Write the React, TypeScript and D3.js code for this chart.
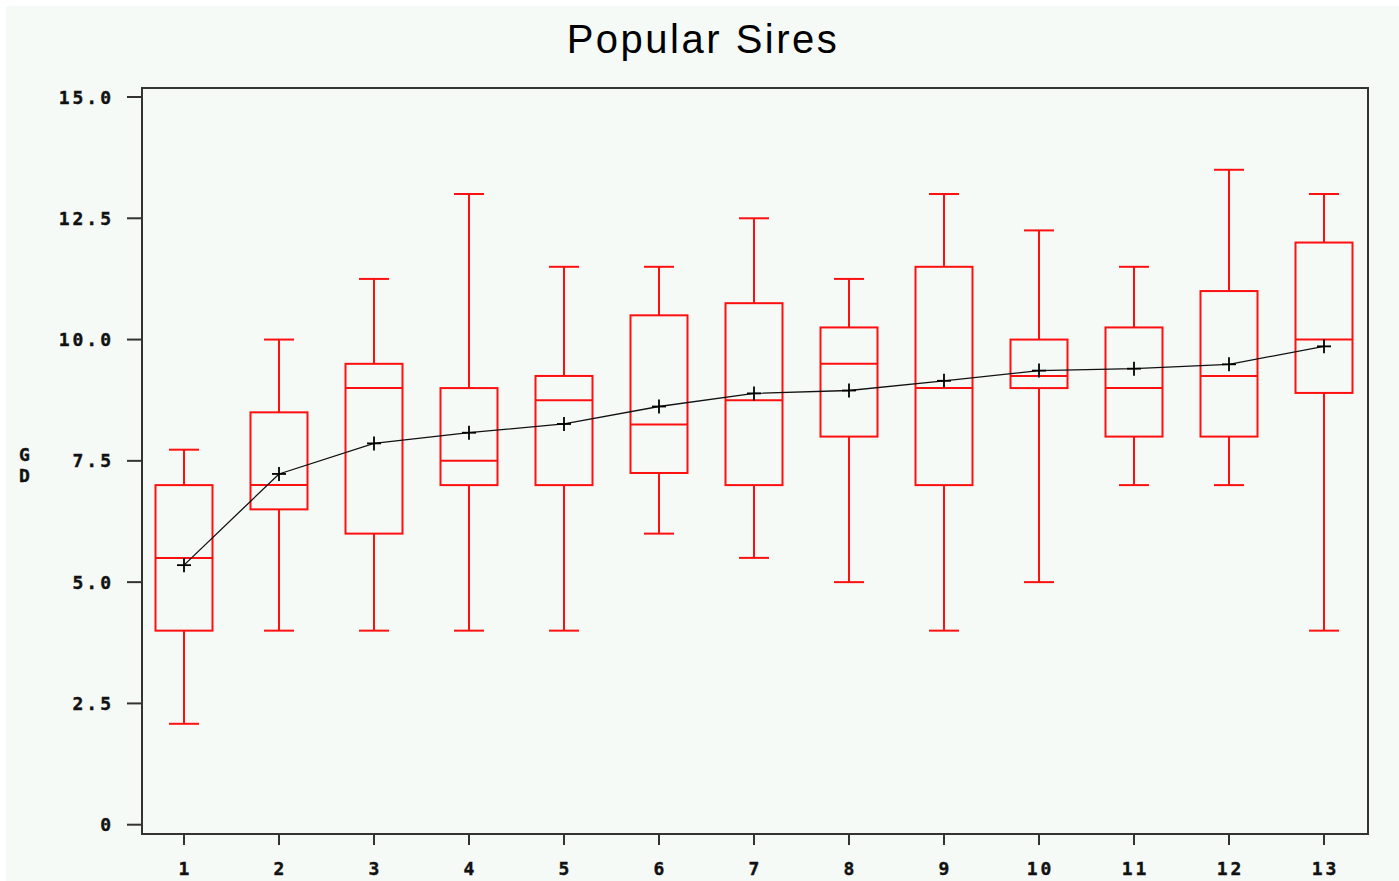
import React from "react";
import * as d3 from "d3";

const categories = ["1","2","3","4","5","6","7","8","9","10","11","12","13"];
const whiskerLow = [2.08, 4, 4, 4, 4, 6, 5.5, 5, 4, 5, 7, 7, 4];
const q1 = [4, 6.5, 6, 7, 7, 7.25, 7, 8, 7, 9, 8, 8, 8.9];
const median = [5.5, 7, 9, 7.5, 8.75, 8.25, 8.75, 9.5, 9, 9.25, 9, 9.25, 10];
const q3 = [7, 8.5, 9.5, 9, 9.25, 10.5, 10.75, 10.25, 11.5, 10, 10.25, 11, 12];
const whiskerHigh = [7.73, 10, 11.25, 13, 11.5, 11.5, 12.5, 11.25, 13, 12.25, 11.5, 13.5, 13];
const means = [5.35, 7.23, 7.86, 8.08, 8.26, 8.62, 8.89, 8.95, 9.15, 9.36, 9.4, 9.49, 9.86];
const yTicks = [0, 2.5, 5, 7.5, 10, 12.5, 15];
const yTickLabels = ["0", "2.5", "5.0", "7.5", "10.0", "12.5", "15.0"];
const title = "Popular Sires";
const yLabel = ["G", "D"];

export default function App() {
  const W = 1399, H = 881;
  const frame = { left: 142, right: 1368, top: 88, bottom: 834 };
  const x = d3.scalePoint<string>().domain(categories).range([184, 1324]);
  const y = d3.scaleLinear().domain([0, 15]).range([824.7, 97]);
  const boxW = 57;
  const capW = 30;
  const red = "#ff1010";
  const tickFont = "'DejaVu Sans Mono', monospace";

  const meanLine = d3.line<number>()
    .x((_, i) => x(categories[i]) as number)
    .y((d) => y(d))(means);

  return (
    <svg width={W} height={H} style={{ position: "absolute", left: 0, top: 0 }}>
      <rect x={0} y={0} width={W} height={H} fill="#ffffff" />
      <rect x={6} y={6} width={W - 6} height={H - 6} fill="#f5faf7" />
      <text x={703} y={53} textAnchor="middle" fontFamily="'Liberation Sans', Arial, sans-serif"
        fontSize={40} letterSpacing={2.5} fill="#000">{title}</text>

      {/* frame */}
      <rect x={frame.left} y={frame.top} width={frame.right - frame.left} height={frame.bottom - frame.top}
        fill="none" stroke="#333" strokeWidth={2} />

      {/* y ticks */}
      {yTicks.map((t, i) => (
        <g key={"yt" + i}>
          <line x1={127} x2={frame.left} y1={y(t)} y2={y(t)} stroke="#333" strokeWidth={2} />
          <text x={114} y={y(t) + 6.5} textAnchor="end" fontFamily={tickFont} fontWeight="bold"
            fontSize={18} letterSpacing={3} fill="#111" stroke="#111" strokeWidth={0.4}>{yTickLabels[i]}</text>
        </g>
      ))}

      {/* x ticks */}
      {categories.map((c) => (
        <g key={"xt" + c}>
          <line x1={x(c)} x2={x(c)} y1={frame.bottom} y2={frame.bottom + 11} stroke="#333" strokeWidth={2} />
          <text x={(x(c) as number) + 1.5} y={875} textAnchor="middle" fontFamily={tickFont} fontWeight="bold"
            fontSize={18} letterSpacing={3} fill="#111" stroke="#111" strokeWidth={0.4}>{c}</text>
        </g>
      ))}

      {/* y label */}
      {yLabel.map((ch, i) => (
        <text key={"yl" + i} x={24.5} y={461 + i * 21} textAnchor="middle" fontFamily={tickFont}
          fontWeight="bold" fontSize={18} fill="#111" stroke="#111" strokeWidth={0.4}>{ch}</text>
      ))}

      {/* boxes */}
      {categories.map((c, i) => {
        const cx = x(c) as number;
        return (
          <g key={"b" + c} stroke={red} strokeWidth={2} fill="none">
            <line x1={cx} x2={cx} y1={y(q3[i])} y2={y(whiskerHigh[i])} />
            <line x1={cx} x2={cx} y1={y(q1[i])} y2={y(whiskerLow[i])} />
            <line x1={cx - capW / 2} x2={cx + capW / 2} y1={y(whiskerHigh[i])} y2={y(whiskerHigh[i])} />
            <line x1={cx - capW / 2} x2={cx + capW / 2} y1={y(whiskerLow[i])} y2={y(whiskerLow[i])} />
            <rect x={cx - boxW / 2} y={y(q3[i])} width={boxW} height={y(q1[i]) - y(q3[i])} />
            <line x1={cx - boxW / 2} x2={cx + boxW / 2} y1={y(median[i])} y2={y(median[i])} />
          </g>
        );
      })}

      {/* mean line */}
      <path d={meanLine || ""} fill="none" stroke="#111" strokeWidth={1.3} />
      {means.map((m, i) => {
        const cx = x(categories[i]) as number;
        const cy = y(m);
        return (
          <g key={"m" + i} stroke="#000" strokeWidth={1.8}>
            <line x1={cx - 7} x2={cx + 7} y1={cy} y2={cy} />
            <line x1={cx} x2={cx} y1={cy - 7} y2={cy + 7} />
          </g>
        );
      })}
    </svg>
  );
}
